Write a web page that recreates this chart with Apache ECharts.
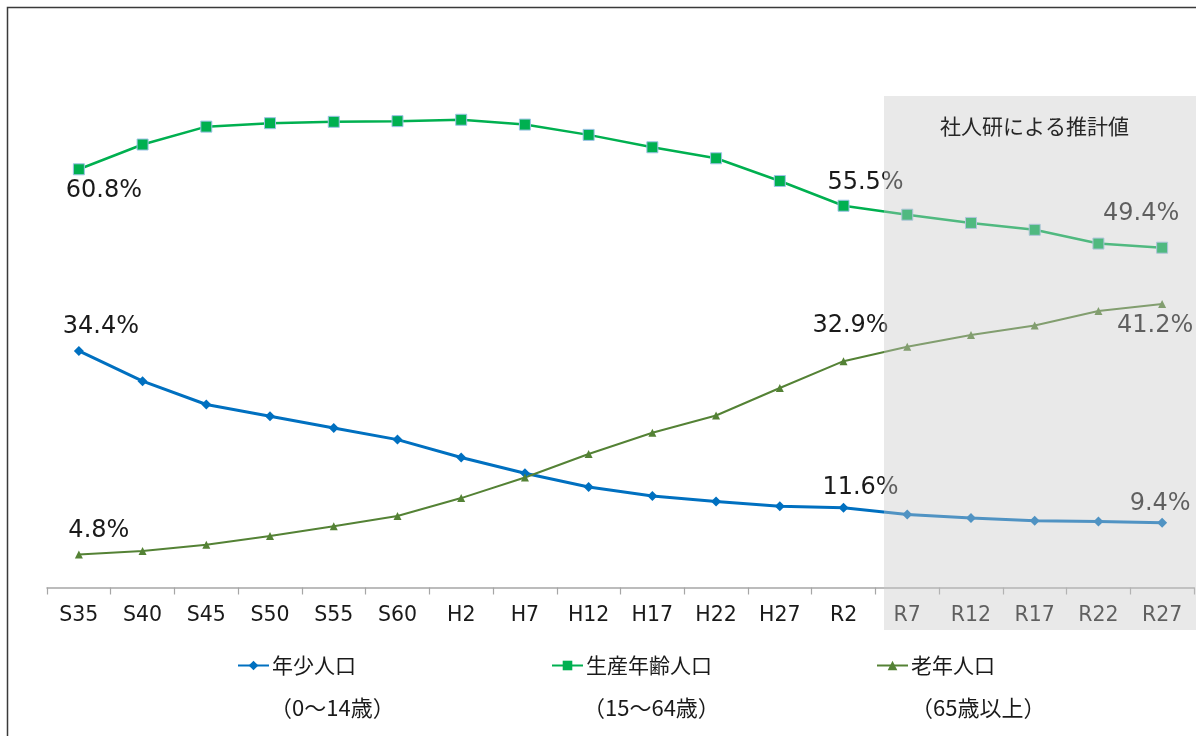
<!DOCTYPE html>
<html><head><meta charset="utf-8">
<script src="https://cdn.jsdelivr.net/npm/echarts@6/dist/echarts.min.js"></script>
<style>html,body{margin:0;padding:0;background:#fff;overflow:hidden}#c{width:1196px;height:736px}</style>
</head><body><div id="c"></div>
<script>
// ---- data ----
const categories = ['S35','S40','S45','S50','S55','S60','H2','H7','H12','H17','H22','H27','R2','R7','R12','R17','R22','R27'];
const youngShare   = [34.4, 30.0, 26.6, 24.9, 23.2, 21.5, 18.9, 16.6, 14.6, 13.3, 12.5, 11.8, 11.6, 10.6, 10.1, 9.7, 9.6, 9.4];
const workingShare = [60.8, 64.4, 67.0, 67.5, 67.7, 67.8, 68.0, 67.3, 65.8, 64.0, 62.4, 59.1, 55.5, 54.2, 53.0, 52.0, 50.0, 49.4];
const elderlyShare = [4.8, 5.3, 6.2, 7.5, 8.9, 10.4, 13.0, 16.0, 19.4, 22.5, 25.0, 29.0, 32.9, 35.0, 36.7, 38.1, 40.2, 41.2];
const seriesNames  = ['年少人口', '生産年齢人口', '老年人口'];
const ageRanges    = ['（0～14歳）', '（15～64歳）', '（65歳以上）'];
const projectionNote = '社人研による推計値';

// ---- styles ----
const NUM_FONT = 'DejaVu Sans';
const JP_FONT = '"Noto Sans CJK JP", "Noto Sans", sans-serif';
const labelOffsets = {
  young:   {0: [22, -24], 12: [17, -20], 17: [-2, -19]},
  working: {0: [25, 21], 12: [22, -23], 17: [-21, -34]},
  elderly: {0: [20, -24], 12: [7, -35], 17: [-7, 22]}
};

function withLabels(values, offsets) {
  return values.map((v, i) => {
    const o = offsets[i];
    if (!o) return v;
    return {
      value: v,
      label: {
        show: true,
        position: 'inside',
        offset: o,
        formatter: p => p.value.toFixed(1) + '%',
        fontFamily: NUM_FONT,
        fontSize: 24,
        color: '#1a1a1a'
      }
    };
  });
}

const chart = echarts.init(document.getElementById('c'));
const legendBase = {
  top: 655, padding: 0, itemWidth: 31, itemHeight: 12, itemGap: 0,
  itemStyle: {borderWidth: 0},
  textStyle: {fontFamily: JP_FONT, fontSize: 21, color: '#1a1a1a', padding: [0, 0, 0, -2]}
};
const subFont = '22px "Noto Sans CJK JP"';
chart.setOption({
  animation: false,
  backgroundColor: '#ffffff',
  grid: {left: 47, right: 2, top: 106, bottom: 148.5},
  xAxis: {
    type: 'category',
    data: categories,
    boundaryGap: true,
    axisLine: {lineStyle: {color: '#a6a6a6', width: 1.5}},
    axisTick: {show: true, length: 7, lineStyle: {color: '#a6a6a6', width: 1.2}},
    axisLabel: {fontFamily: NUM_FONT, fontSize: 20.5, color: '#1a1a1a', margin: 18}
  },
  yAxis: {
    type: 'value', min: 0, max: 70, interval: 10,
    show: false, splitLine: {show: false}
  },
  legend: [
    Object.assign({}, legendBase, {left: 237, data: [seriesNames[0]]}),
    Object.assign({}, legendBase, {left: 551, data: [seriesNames[1]]}),
    Object.assign({}, legendBase, {left: 876, data: [seriesNames[2]]})
  ],
  series: [
    {
      name: seriesNames[0], type: 'line',
      data: withLabels(youngShare, labelOffsets.young),
      symbol: 'diamond', symbolSize: 10,
      lineStyle: {color: '#0070C0', width: 3},
      itemStyle: {color: '#0070C0'}
    },
    {
      name: seriesNames[1], type: 'line',
      data: withLabels(workingShare, labelOffsets.working),
      symbol: 'rect', symbolSize: 11,
      lineStyle: {color: '#00B050', width: 2.5},
      itemStyle: {color: '#00B050', borderColor: '#9DC3E6', borderWidth: 1}
    },
    {
      name: seriesNames[2], type: 'line',
      data: withLabels(elderlyShare, labelOffsets.elderly),
      symbol: 'triangle', symbolSize: 8,
      lineStyle: {color: '#548235', width: 2},
      itemStyle: {color: '#548235'}
    }
  ],
  graphic: [
    {type: 'rect', left: 5, top: 5, z: 0, silent: true,
     shape: {x: 0, y: 0, width: 1300, height: 800},
     style: {fill: null, stroke: '#3a3a3a', lineWidth: 1.5}},
    {type: 'rect', z: 100, silent: true,
     shape: {x: 884, y: 96, width: 320, height: 534},
     style: {fill: 'rgba(200,200,200,0.4)'}},
    {type: 'text', z: 101, left: 940, top: 116,
     style: {text: projectionNote, font: '21px "Noto Sans CJK JP"', fill: '#262626'}},
    {type: 'text', z: 101, left: 270, top: 697,
     style: {text: ageRanges[0], font: subFont, fill: '#1a1a1a'}},
    {type: 'text', z: 101, left: 583, top: 697,
     style: {text: ageRanges[1], font: subFont, fill: '#1a1a1a'}},
    {type: 'text', z: 101, left: 911, top: 697,
     style: {text: ageRanges[2], font: subFont, fill: '#1a1a1a'}}
  ]
});
</script></body></html>
